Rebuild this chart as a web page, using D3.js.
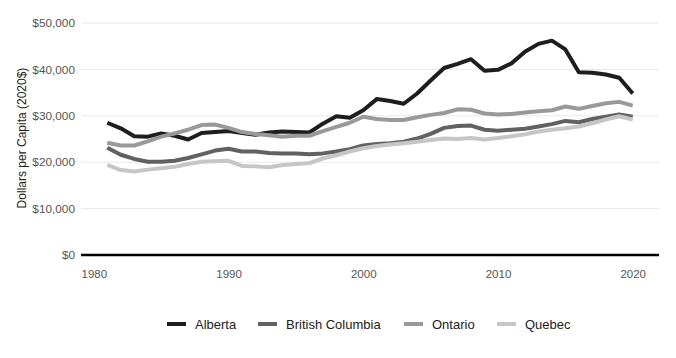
<!DOCTYPE html>
<html><head><meta charset="utf-8">
<script src="https://cdn.jsdelivr.net/npm/d3@7"></script>
<style>body{margin:0;background:#fff;}svg{display:block;font-family:"Liberation Sans",Arial,sans-serif;}</style>
</head><body><svg id="c" width="676" height="358"></svg>
<script>
const years = d3.range(1981, 2021);
const alberta = [28.5,27.3,25.6,25.5,26.2,25.7,24.9,26.3,26.5,26.7,26.3,25.9,26.4,26.6,26.5,26.4,28.3,29.9,29.6,31.2,33.6,33.2,32.6,34.8,37.6,40.3,41.2,42.2,39.7,39.9,41.3,43.8,45.5,46.2,44.3,39.4,39.3,38.9,38.2,34.8];
const britishColumbia = [23.1,21.6,20.7,20.1,20.1,20.3,20.9,21.7,22.5,22.9,22.3,22.3,22.0,21.9,21.9,21.7,21.9,22.3,22.8,23.6,23.9,24.1,24.4,25.1,26.1,27.4,27.8,27.9,27.0,26.8,27.0,27.2,27.7,28.2,28.9,28.6,29.3,29.8,30.3,29.8];
const ontario = [24.2,23.6,23.6,24.5,25.5,26.2,27.0,28.0,28.1,27.4,26.5,26.1,25.8,25.5,25.7,25.7,26.7,27.6,28.5,29.8,29.3,29.1,29.1,29.7,30.2,30.6,31.4,31.3,30.5,30.3,30.4,30.7,31.0,31.2,32.0,31.5,32.1,32.7,33.0,32.2];
const quebec = [19.4,18.3,18.0,18.4,18.7,19.0,19.6,20.1,20.2,20.3,19.2,19.1,18.9,19.4,19.6,19.8,20.8,21.5,22.3,23.0,23.5,23.8,24.1,24.4,24.8,25.1,25.0,25.2,24.9,25.2,25.6,26.0,26.6,27.0,27.3,27.7,28.4,29.2,29.9,29.2];
const seriesNames = ["Alberta","British Columbia","Ontario","Quebec"];
const seriesColors = ["#1e1e1e","#616161","#999999","#c6c6c6"];
const yTicks = [0,10000,20000,30000,40000,50000];
const xTicks = [1980,1990,2000,2010,2020];
const yTitle = "Dollars per Capita (2020$)";

const series = [alberta, britishColumbia, ontario, quebec].map((vals,i)=>({
  name: seriesNames[i], color: seriesColors[i],
  values: vals.map((v,j)=>({year: years[j], value: v*1000}))
}));

const svg = d3.select("#c");
const L = 81, R = 659, T = 23, B = 255;
const x = d3.scaleLinear().domain([1979.05, 2021.95]).range([L, R]);
const y = d3.scaleLinear().domain([0, 50000]).range([B, T]);

// gridlines
svg.append("g").selectAll("line").data(yTicks.filter(d=>d>0)).join("line")
  .attr("x1", L).attr("x2", R).attr("y1", d=>y(d)).attr("y2", d=>y(d))
  .attr("stroke", "#e8e8e8").attr("stroke-width", 1);

// y axis labels
const yAxis = d3.axisLeft(y).tickValues(yTicks).tickSize(0).tickPadding(6)
  .tickFormat(d=>"$"+d3.format(",")(d));
svg.append("g").attr("transform", `translate(${L},0)`).call(yAxis)
  .call(g=>g.select(".domain").remove())
  .selectAll("text").attr("font-size", 11.8).attr("fill", "#555").attr("font-family","Liberation Sans, Arial, sans-serif");

// x axis labels
const xAxis = d3.axisBottom(x).tickValues(xTicks).tickSize(0).tickPadding(15).tickFormat(d3.format("d"));
svg.append("g").attr("transform", `translate(0,${B})`).call(xAxis)
  .call(g=>g.select(".domain").remove())
  .selectAll("text").attr("font-size", 11.5).attr("fill", "#555").attr("font-family","Liberation Sans, Arial, sans-serif");

// zero line
svg.append("line").attr("x1", L).attr("x2", R).attr("y1", y(0)).attr("y2", y(0))
  .attr("stroke", "#000").attr("stroke-width", 2.6);

// lines
const line = d3.line().x(d=>x(d.year)).y(d=>y(d.value));
svg.append("g").selectAll("path").data(series).join("path")
  .attr("d", d=>line(d.values)).attr("fill","none")
  .attr("stroke", d=>d.color).attr("stroke-width", 4).attr("stroke-linejoin","round");

// y title
svg.append("text").attr("transform", `translate(26,138) rotate(-90)`)
  .attr("text-anchor","middle").attr("font-size", 12).attr("fill","#222").text(yTitle);

// legend
const legX = [167, 258, 404, 497];
const lg = svg.append("g").selectAll("g").data(series).join("g")
  .attr("transform", (d,i)=>`translate(${legX[i]},324)`);
lg.append("rect").attr("x",0).attr("y",-2).attr("width",19).attr("height",4).attr("fill", d=>d.color);
lg.append("text").attr("x", 28).attr("y", 0).attr("dy","0.35em").attr("font-size", 13).attr("fill","#222").text(d=>d.name);
</script></body></html>
